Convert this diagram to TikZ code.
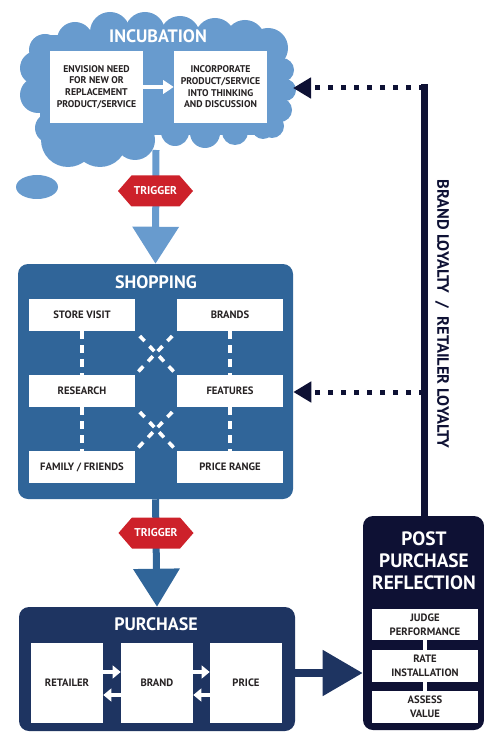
\documentclass[tikz,border=0pt]{standalone}
\usepackage{fontspec}
\setmainfont{PT Sans}
\usetikzlibrary{arrows.meta,shapes.symbols,calc}

\definecolor{cloudBlue}{RGB}{104,155,206}
\definecolor{shopBlue}{RGB}{48,101,153}
\definecolor{buyNavy}{RGB}{30,52,97}
\definecolor{postNavy}{RGB}{14,17,52}
\definecolor{trigRed}{RGB}{205,33,42}
\definecolor{boxInk}{RGB}{38,34,35}

\begin{document}
\begin{tikzpicture}[x=0.75pt,y=0.75pt,yscale=-1,xscale=1,
  whiteBox/.style={fill=white, text=boxInk, align=center, inner sep=0pt, font=\bfseries\fontsize{8}{10.5}\selectfont},
  stageTitle/.style={text=white, inner sep=0pt, font=\bfseries\fontsize{13.5}{16}\selectfont},
  stageBox/.style={rounded corners=7.5pt, inner sep=0pt},
  triggerTag/.style={signal, signal to=east and west, signal pointer angle=98, fill=trigRed, text=white, inner sep=0pt, minimum width=56.25pt, minimum height=23.25pt, font=\bfseries\fontsize{8.5}{9}\selectfont},
  linkDash/.style={white, line width=2.7pt, dash pattern=on 5.25pt off 5.25pt, dash phase=5.6pt},
  loyalDots/.style={postNavy, line width=3.75pt, dash pattern=on 3.75pt off 6pt, -{Triangle[length=13.5pt,width=15pt]}},
]
%set diagram size
\path[use as bounding box] (0,0) rectangle (484,734);

%Shape: Cloud
\fill[cloudBlue] (40,35) rectangle (280,135);
\foreach \cx/\cy/\r in {45/50/16, 75/40/18, 110/32/20, 145/32/20, 180/36/20, 215/38/20, 245/40/20, 268/48/20,
    282/70/12, 285/90/11, 280/110/12, 272/126/12,
    263/128/11, 235/132/13, 205/133/15, 175/132/14,
    135/140/20, 100/140/27, 68/140/27,
    50/128/15, 38/95/18, 37/68/17}
  \fill[cloudBlue] (\cx,\cy) circle (\r);
\fill[cloudBlue] (37,187) ellipse (21 and 12);
\coordinate (cloudS) at (156,150);
\coordinate (cloudE) at (293,88);

%Shapes: Stage boxes
\node (shopping) at (155.5,381.5) [stageBox, fill=shopBlue, minimum width=206.25pt, minimum height=176.25pt] {};
\node (purchase) at (157,669) [stageBox, fill=buyNavy, minimum width=207pt, minimum height=93pt] {};
\node (post) at (423.5,623) [stageBox, fill=postNavy, minimum width=90.75pt, minimum height=160.5pt] {};

% Text Node
\draw (158,36) node (incTitle) [stageTitle] {INCUBATION};
\draw (156,282) node (shopTitle) [stageTitle] {SHOPPING};
\draw (156,624) node (buyTitle) [stageTitle] {PURCHASE};
\draw (424,561) node (postTitle) [stageTitle, align=center, font=\bfseries\fontsize{14.5}{16.5}\selectfont] {POST\\PURCHASE\\REFLECTION};

%Incubation boxes
\node (envision) at (96.5,87) [whiteBox, minimum width=69.75pt, minimum height=54pt, font=\bfseries\fontsize{7.3}{8.75}\selectfont] {ENVISION NEED\\FOR NEW OR\\REPLACEMENT\\PRODUCT/SERVICE};
\node (incorporate) at (220.5,87) [whiteBox, minimum width=69.75pt, minimum height=54pt, font=\bfseries\fontsize{7.3}{8.75}\selectfont] {INCORPORATE\\PRODUCT/SERVICE\\INTO THINKING\\AND DISCUSSION};
\draw[white, line width=3pt, -{Triangle[length=8pt,width=10pt]}] (envision) -- (incorporate);

%Shopping boxes
\node (store) at (82,315) [whiteBox, minimum width=79.5pt, minimum height=24pt] {STORE VISIT};
\node (brands) at (230,315) [whiteBox, minimum width=79.5pt, minimum height=24pt] {BRANDS};
\node (research) at (82,391) [whiteBox, minimum width=79.5pt, minimum height=24pt] {RESEARCH};
\node (features) at (230,391) [whiteBox, minimum width=79.5pt, minimum height=24pt] {FEATURES};
\node (family) at (82,467) [whiteBox, minimum width=79.5pt, minimum height=24pt] {FAMILY / FRIENDS};
\node (range) at (230,467) [whiteBox, minimum width=79.5pt, minimum height=24pt] {PRICE RANGE};

%Straight Lines
\draw[linkDash, line width=3pt, dash pattern=on 6pt off 4.5pt, dash phase=0pt] (store) -- (research);
\draw[linkDash, line width=3pt, dash pattern=on 6pt off 4.5pt, dash phase=0pt] (research) -- (family);
\draw[linkDash, line width=3pt, dash pattern=on 6pt off 4.5pt, dash phase=0pt] (brands) -- (features);
\draw[linkDash, line width=3pt, dash pattern=on 6pt off 4.5pt, dash phase=0pt] (features) -- (range);
\draw[linkDash] (store.south east) -- (features.north west);
\draw[linkDash] (brands.south west) -- (research.north east);
\draw[linkDash] (research.south east) -- (range.north west);
\draw[linkDash] (features.south west) -- (family.north east);

%Purchase boxes
\node (retailer) at (67,683) [whiteBox, minimum width=54pt, minimum height=60pt] {RETAILER};
\node (brand) at (157,683) [whiteBox, minimum width=54pt, minimum height=60pt] {BRAND};
\node (price) at (246,683) [whiteBox, minimum width=54pt, minimum height=60pt] {PRICE};

\draw[white, line width=3.5pt, -{Triangle[length=6pt,width=9.5pt]}] ($(retailer.east)+(0,-11)$) -- ($(brand.west)+(0,-11)$);
\draw[white, line width=3.5pt, -{Triangle[length=6pt,width=9.5pt]}] ($(brand.west)+(0,12)$) -- ($(retailer.east)+(0,12)$);
\draw[white, line width=3.5pt, -{Triangle[length=6pt,width=9.5pt]}] ($(brand.east)+(0,-11)$) -- ($(price.west)+(0,-11)$);
\draw[white, line width=3.5pt, -{Triangle[length=6pt,width=9.5pt]}] ($(price.west)+(0,12)$) -- ($(brand.east)+(0,12)$);

%Post purchase boxes
\node (judge) at (425,624.5) [whiteBox, minimum width=79.5pt, minimum height=23.5pt] {JUDGE\\PERFORMANCE};
\node (rate) at (425,666) [whiteBox, minimum width=79.5pt, minimum height=23.5pt] {RATE\\INSTALLATION};
\node (assess) at (425,707) [whiteBox, minimum width=79.5pt, minimum height=23.5pt] {ASSESS\\VALUE};
\draw[white, line width=3pt] (judge) -- (rate);
\draw[white, line width=3pt] (rate) -- (assess);

%Big arrows between stages
\coordinate (buyOut) at ($(purchase.east)+(0,4)$);
\draw[cloudBlue, line width=5.25pt, -{Triangle[length=27.75pt,width=33.75pt]}] (cloudS) -- (shopping.north);
\draw[shopBlue, line width=5.25pt, -{Triangle[length=28.5pt,width=33.75pt]}] (shopping.south) -- (purchase.north);
\draw[buyNavy, line width=6pt, -{Triangle[length=30pt,width=33pt]}] (buyOut) -- (buyOut -| post.west);

%Triggers
\node (trigA) at (155.5,191) [triggerTag] {TRIGGER};
\node (trigB) at (156,533) [triggerTag] {TRIGGER};

%Loyalty feedback
\coordinate (loyTop) at (424,88);
\coordinate (loyMid) at (424,392);
\draw[postNavy, line width=5.25pt, line cap=rect] (loyTop) -- (loyTop |- post.north);
\draw[loyalDots] (loyTop) -- (cloudE);
\draw[loyalDots] (loyMid) -- (loyMid -| shopping.east);
\draw (442,314) node (loyalty) [rotate=-90, text=postNavy, inner sep=0pt, font=\bfseries\fontsize{12.3}{14}\selectfont] {BRAND LOYALTY \ / \ RETAILER LOYALTY};

\end{tikzpicture}
\end{document}
